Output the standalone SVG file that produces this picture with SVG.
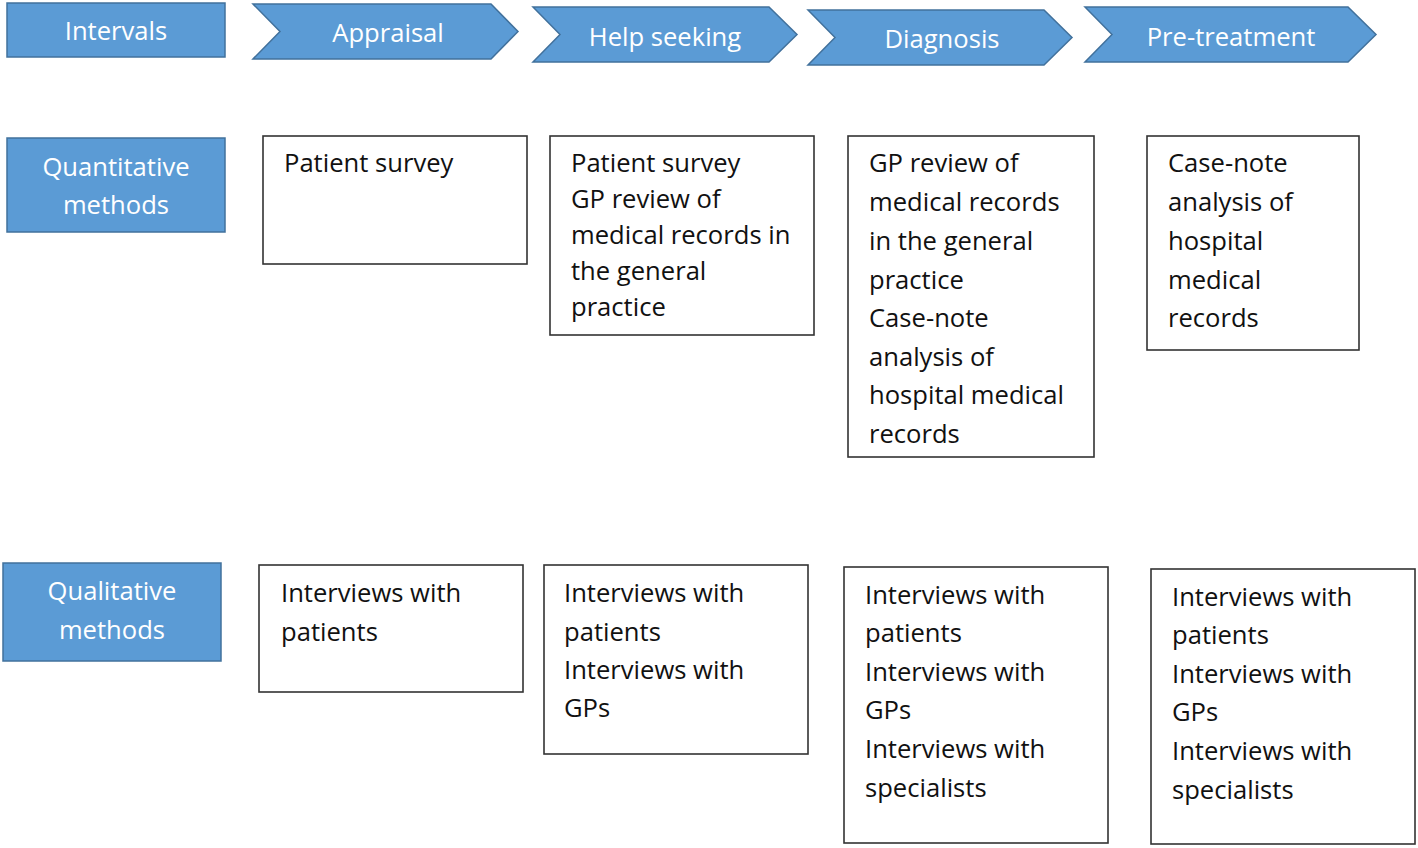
<svg xmlns="http://www.w3.org/2000/svg" width="1418" height="848" viewBox="0 0 1418 848">
<style>
.blue{fill:#5B9BD5;stroke:#41719C;stroke-width:1.5}
.box{fill:#fff;stroke:#333;stroke-width:1.6}
.wt{font-family:"Open Sans","Liberation Sans",sans-serif;font-size:25.6px;fill:#fff;text-anchor:middle}
.bt{font-family:"Open Sans","Liberation Sans",sans-serif;font-size:25.6px;fill:#111}
</style>
<rect width="1418" height="848" fill="#fff"/>
<g id="intervals"><rect class="blue" x="7" y="3" width="218" height="54"/><text class="wt" x="116" y="40">Intervals</text></g>
<g id="appraisal"><polygon class="blue" points="253,4 491,4 518,31.5 491,59 253,59 280,31.5"/><text class="wt" x="388" y="42">Appraisal</text></g>
<g id="help-seeking"><polygon class="blue" points="533,7 769,7 797,34.5 769,62 533,62 560,34.5"/><text class="wt" x="665" y="46">Help seeking</text></g>
<g id="diagnosis"><polygon class="blue" points="808,10 1044,10 1072,37.5 1044,65 808,65 835,37.5"/><text class="wt" x="942" y="48">Diagnosis</text></g>
<g id="pre-treatment"><polygon class="blue" points="1085,7 1348,7 1376,34.5 1348,62 1085,62 1112,34.5"/><text class="wt" x="1231" y="46">Pre-treatment</text></g>

<g id="quantitative-methods"><rect class="blue" x="7" y="138" width="218" height="94"/><text class="wt" x="116" y="176">Quantitative</text><text class="wt" x="116" y="214">methods</text></g>
<g id="qualitative-methods"><rect class="blue" x="3" y="563" width="218" height="98"/><text class="wt" x="112" y="600">Qualitative</text><text class="wt" x="112" y="639">methods</text></g>

<g id="quant-appraisal"><rect class="box" x="263" y="136" width="264" height="128"/><text class="bt" x="284" y="172">Patient survey</text></g>
<g id="quant-help-seeking"><rect class="box" x="550" y="136" width="264" height="199"/>
<text class="bt" x="571" y="172">Patient survey</text><text class="bt" x="571" y="208">GP review of</text><text class="bt" x="571" y="244">medical records in</text><text class="bt" x="571" y="280">the general</text><text class="bt" x="571" y="316">practice</text></g>
<g id="quant-diagnosis"><rect class="box" x="848" y="136" width="246" height="321"/>
<text class="bt" x="869" y="172">GP review of</text><text class="bt" x="869" y="211">medical records</text><text class="bt" x="869" y="250">in the general</text><text class="bt" x="869" y="289">practice</text><text class="bt" x="869" y="327">Case-note</text><text class="bt" x="869" y="366">analysis of</text><text class="bt" x="869" y="404">hospital medical</text><text class="bt" x="869" y="443">records</text></g>
<g id="quant-pre-treatment"><rect class="box" x="1147" y="136" width="212" height="214"/>
<text class="bt" x="1168" y="172">Case-note</text><text class="bt" x="1168" y="211">analysis of</text><text class="bt" x="1168" y="250">hospital</text><text class="bt" x="1168" y="289">medical</text><text class="bt" x="1168" y="327">records</text></g>

<g id="qual-appraisal"><rect class="box" x="259" y="565" width="264" height="127"/>
<text class="bt" x="281" y="602">Interviews with</text><text class="bt" x="281" y="641">patients</text></g>
<g id="qual-help-seeking"><rect class="box" x="544" y="565" width="264" height="189"/>
<text class="bt" x="564" y="602">Interviews with</text><text class="bt" x="564" y="641">patients</text><text class="bt" x="564" y="679">Interviews with</text><text class="bt" x="564" y="717">GPs</text></g>
<g id="qual-diagnosis"><rect class="box" x="844" y="567" width="264" height="276"/>
<text class="bt" x="865" y="604">Interviews with</text><text class="bt" x="865" y="642">patients</text><text class="bt" x="865" y="681">Interviews with</text><text class="bt" x="865" y="719">GPs</text><text class="bt" x="865" y="758">Interviews with</text><text class="bt" x="865" y="797">specialists</text></g>
<g id="qual-pre-treatment"><rect class="box" x="1151" y="569" width="264" height="275"/>
<text class="bt" x="1172" y="606">Interviews with</text><text class="bt" x="1172" y="644">patients</text><text class="bt" x="1172" y="683">Interviews with</text><text class="bt" x="1172" y="721">GPs</text><text class="bt" x="1172" y="760">Interviews with</text><text class="bt" x="1172" y="799">specialists</text></g>
<g id="connectors"/>
</svg>
